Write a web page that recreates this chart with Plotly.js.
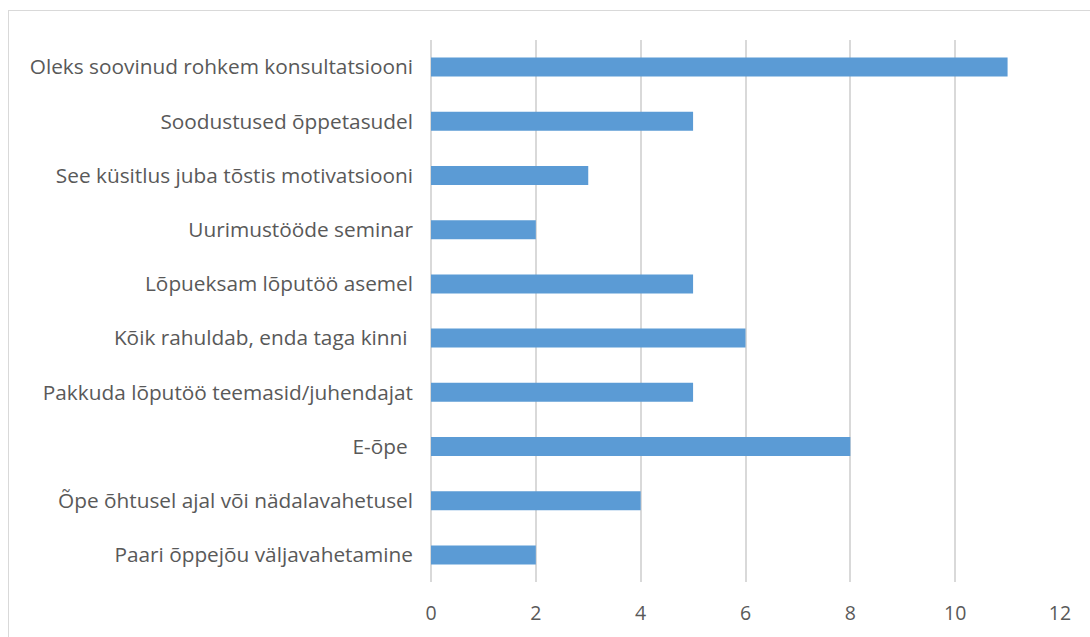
<!DOCTYPE html>
<html>
<head>
<meta charset="utf-8">
<script src="https://cdn.plot.ly/plotly-3.0.1.min.js"></script>
<style>
html,body{margin:0;padding:0;background:#fff;}
#frame{position:absolute;left:8px;top:10px;width:1100px;height:660px;border:1px solid #d9d9d9;box-sizing:border-box;}
#chart{position:absolute;left:0;top:0;width:1090px;height:637px;}
</style>
</head>
<body>
<div id="frame"></div>
<div id="chart"></div>
<script>
var categories = [
  "Paari õppejõu väljavahetamine",
  "Õpe õhtusel ajal või nädalavahetusel",
  "E-õpe\u00a0",
  "Pakkuda lõputöö teemasid/juhendajat",
  "Kõik rahuldab, enda taga kinni\u00a0",
  "Lõpueksam lõputöö asemel",
  "Uurimustööde seminar",
  "See küsitlus juba tõstis motivatsiooni",
  "Soodustused õppetasudel",
  "Oleks soovinud rohkem konsultatsiooni"
];
var values = [2, 4, 8, 5, 6, 5, 2, 3, 5, 11];
var xTicks = [0, 2, 4, 6, 8, 10, 12];

var trace = {
  type: 'bar',
  orientation: 'h',
  y: categories,
  x: values,
  marker: {color: '#5B9BD5'},
  width: 0.35,
  hoverinfo: 'x+y'
};

var layout = {
  width: 1090,
  height: 637,
  margin: {l: 431, r: 30, t: 40, b: 55},
  paper_bgcolor: 'rgba(0,0,0,0)',
  plot_bgcolor: 'rgba(0,0,0,0)',
  showlegend: false,
  font: {family: 'Open Sans, sans-serif', size: 20, color: '#595959'},
  xaxis: {
    range: [0, 12],
    tickvals: xTicks,
    ticktext: xTicks.map(String),
    showgrid: true,
    gridcolor: '#d9d9d9',
    gridwidth: 2,
    zeroline: true,
    zerolinecolor: '#d9d9d9',
    zerolinewidth: 2,
    showline: false,
    ticks: '',
    ticklabelstandoff: 17,
    tickfont: {size: 19.5, color: '#595959'},
    fixedrange: true
  },
  yaxis: {
    type: 'category',
    categoryorder: 'array',
    categoryarray: categories,
    showgrid: false,
    zeroline: false,
    showline: false,
    ticks: '',
    ticklabelstandoff: 17,
    tickfont: {size: 20.8, color: '#595959'},
    automargin: false,
    fixedrange: true
  }
};

Plotly.newPlot('chart', [trace], layout, {displayModeBar: false, staticPlot: true});
</script>
</body>
</html>
